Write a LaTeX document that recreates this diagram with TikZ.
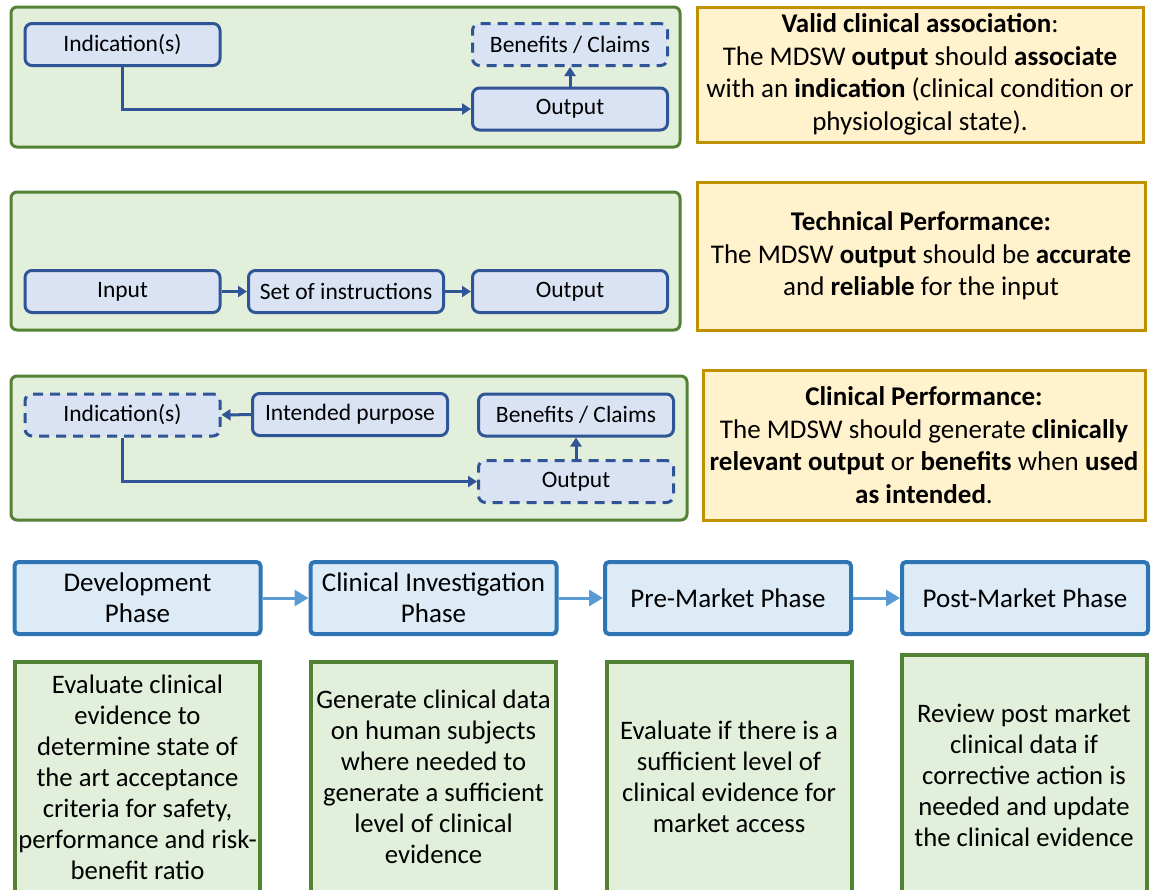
\documentclass[tikz,border=0pt]{standalone}
\usepackage{fontspec}
\setmainfont{Carlito}
\usetikzlibrary{arrows.meta}
\definecolor{panelfill}{HTML}{E2EFDA}
\definecolor{paneldraw}{HTML}{548235}
\definecolor{boxfill}{HTML}{DAE3F3}
\definecolor{boxdraw}{HTML}{2F5597}
\definecolor{notefill}{HTML}{FFF2CC}
\definecolor{notedraw}{HTML}{BF9000}
\definecolor{phasefill}{HTML}{DDEBF7}
\definecolor{phasedraw}{HTML}{2E75B6}
\definecolor{phasearrow}{HTML}{5B9BD5}
\tikzset{
  panel/.style={draw=paneldraw, fill=panelfill, line width=3pt, rounded corners=6pt},
  sbox/.style={draw=boxdraw, fill=boxfill, line width=3pt, rounded corners=7pt,
    minimum width=195pt, minimum height=42pt, inner sep=0pt,
    font=\fontsize{23.5}{26}\selectfont},
  dbox/.style={sbox, dash pattern=on 10pt off 7pt},
  note/.style={draw=notedraw, fill=notefill, line width=3pt, inner sep=0pt,
    align=center, font=\fontsize{27}{32.5}\selectfont},
  flow/.style={draw=boxdraw, line width=3pt, -{Triangle[length=9pt,width=11pt]}},
  phase/.style={draw=phasedraw, fill=phasefill, line width=4pt, rounded corners=4pt,
    minimum width=246pt, minimum height=72pt, inner sep=0pt, align=center,
    font=\fontsize{27}{31}\selectfont},
  task/.style={draw=paneldraw, fill=panelfill, line width=4pt, inner sep=0pt,
    minimum width=245pt, minimum height=230pt, align=center,
    font=\fontsize{26.7}{31}\selectfont},
  phasearr/.style={draw=phasearrow, line width=3pt, -{Triangle[length=14pt,width=16pt]}}
}
\begin{document}
\begin{tikzpicture}[x=1pt,y=-1pt]
\useasboundingbox[fill=white] (0,0) rectangle (1151,889);
\begin{scope}
\clip (0,0) rectangle (1151,889);

% --- Valid clinical association ---
\draw[panel] (11,7) rectangle (680,147);
\node[sbox] (ind1) at (122.5,44.5) {Indication(s)};
\node[dbox] (ben1) at (570,44.5) {Benefits / Claims};
\node[sbox] (out1) at (570,109) {Output};
\draw[flow] (ind1.south) |- (out1.west);
\draw[flow] (out1.north) -- (ben1.south);
\node[note, minimum width=446pt, minimum height=135pt] (n1) at (920,74.5)
  {\textbf{Valid clinical association}:\\
   The MDSW \textbf{output} should \textbf{associate}\\
   with an \textbf{indication} (clinical condition or\\
   physiological state).};

% --- Technical performance ---
\draw[panel] (11,192) rectangle (680,330);
\node[sbox] (inp2) at (122.5,291.5) {Input};
\node[sbox] (set2) at (346,291.5) {Set of instructions};
\node[sbox] (out2) at (570,291.5) {Output};
\draw[flow] (inp2) -- (set2);
\draw[flow] (set2) -- (out2);
\node[note, minimum width=448pt, minimum height=148pt] (n2) at (921,256)
  {\textbf{Technical Performance:}\\
   The MDSW \textbf{output} should be \textbf{accurate}\\
   and \textbf{reliable} for the input};

% --- Clinical performance ---
\draw[panel] (11,376) rectangle (687,520);
\node[dbox] (ind3) at (122.5,415) {Indication(s)};
\node[sbox] (pur3) at (350,414.5) {Intended purpose};
\node[sbox] (ben3) at (576,415) {Benefits / Claims};
\node[dbox] (out3) at (576,481.5) {Output};
\draw[flow] (pur3) -- (ind3);
\draw[flow] (ind3.south) |- (out3.west);
\draw[flow] (out3.north) -- (ben3.south);
\node[note, minimum width=442pt, minimum height=150pt] (n3) at (924,445)
  {\textbf{Clinical Performance:}\\
   The MDSW should generate \textbf{clinically}\\
   \textbf{relevant output} or \textbf{benefits} when \textbf{used}\\
   \textbf{as intended}.};

% --- Lifecycle phases ---
\node[phase] (dev) at (137.5,598) {Development\\Phase};
\node[phase] (inv) at (433.5,598) {Clinical Investigation\\Phase};
\node[phase] (pre) at (728,598) {Pre-Market Phase};
\node[phase] (post) at (1025,598) {Post-Market Phase};
\draw[phasearr] (dev) -- (inv);
\draw[phasearr] (inv) -- (pre);
\draw[phasearr] (pre) -- (post);

\node[task] (devt) at (137.5,777) {Evaluate clinical\\evidence to\\determine state of\\the art acceptance\\criteria for safety,\\performance and risk-\\benefit ratio};
\node[task] (invt) at (433.5,777) {Generate clinical data\\on human subjects\\where needed to\\generate a sufficient\\level of clinical\\evidence};
\node[task] (pret) at (729,777) {Evaluate if there is a\\sufficient level of\\clinical evidence for\\market access};
\node[task, minimum height=240pt] (postt) at (1024,775) {Review post market\\clinical data if\\corrective action is\\needed and update\\the clinical evidence};
\end{scope}
\end{tikzpicture}
\end{document}
